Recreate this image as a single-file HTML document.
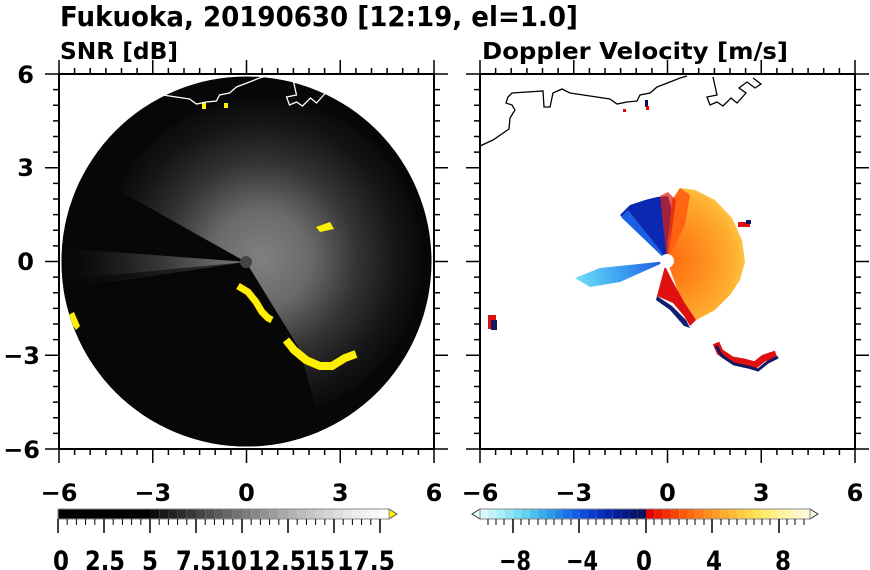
<!DOCTYPE html>
<html><head><meta charset="utf-8"><style>
html,body{margin:0;padding:0;background:#fff;}
svg{display:block;}
text{font-family:"DejaVu Sans","Liberation Sans",sans-serif;font-weight:bold;fill:#000;}
</style></head><body>
<svg width="870" height="570" viewBox="0 0 870 570" xmlns="http://www.w3.org/2000/svg">
<defs>
<radialGradient id="glow" cx="262" cy="258" r="160" gradientUnits="userSpaceOnUse">
<stop offset="0" stop-color="#808080"/>
<stop offset="0.3" stop-color="#6a6a6a"/>
<stop offset="0.6" stop-color="#333"/>
<stop offset="0.85" stop-color="#151515"/>
<stop offset="1" stop-color="#0a0a0a"/>
</radialGradient>
<radialGradient id="glowL" cx="246" cy="262" r="170" gradientUnits="userSpaceOnUse">
<stop offset="0" stop-color="#777"/>
<stop offset="0.5" stop-color="#3a3a3a"/>
<stop offset="1" stop-color="#0a0a0a"/>
</radialGradient>
<radialGradient id="orng" cx="667" cy="261" r="85" gradientUnits="userSpaceOnUse">
<stop offset="0" stop-color="#ff6a10"/>
<stop offset="0.4" stop-color="#ff8a1c"/>
<stop offset="0.8" stop-color="#ffb030"/>
<stop offset="1" stop-color="#ffd050"/>
</radialGradient>
<linearGradient id="lb" x1="667" y1="261" x2="575" y2="280" gradientUnits="userSpaceOnUse">
<stop offset="0" stop-color="#2050e0"/>
<stop offset="0.5" stop-color="#3aa0f0"/>
<stop offset="1" stop-color="#70e0f8"/>
</linearGradient>
<clipPath id="circ"><circle cx="246.5" cy="261.5" r="185"/></clipPath>
</defs>

<text x="60" y="26" font-size="28" textLength="518" lengthAdjust="spacingAndGlyphs">Fukuoka, 20190630 [12:19, el=1.0]</text>
<text x="60" y="59" font-size="23" textLength="118" lengthAdjust="spacingAndGlyphs">SNR [dB]</text>
<text x="482" y="59" font-size="23" textLength="306" lengthAdjust="spacingAndGlyphs">Doppler Velocity [m/s]</text>

<!-- LEFT PANEL -->
<circle cx="246.5" cy="261.5" r="185" fill="#070707"/>
<g clip-path="url(#circ)">
<circle cx="262" cy="258" r="160" fill="url(#glow)"/>
<polygon points="246,262 100,180 60,180 60,248" fill="#070707"/>
<polygon points="246,262 60,248 60,300" fill="url(#glowL)" opacity="0.7"/>
<polygon points="246,262 60,290 60,460 330,460 300,350" fill="#070707"/>
<polygon points="246,262 240,270 120,300 60,300 60,280" fill="#070707" opacity="0.6"/>
<polyline points="238,286 248,292 256,302 262,312 268,318 272,320" fill="none" stroke="#ffef00" stroke-width="7"/>
<polyline points="286,340 294,350 306,360 320,366 332,366 345,358 356,354" fill="none" stroke="#ffef00" stroke-width="8"/>
<polygon points="66,316 74,312 80,326 76,330" fill="#ffef00"/>
<polygon points="316,227 330,222 334,229 320,232" fill="#ffef00"/>
<rect x="202" y="102" width="4" height="7" fill="#ffef00"/>
<rect x="224" y="103" width="4" height="5" fill="#ffef00"/>
<circle cx="246" cy="262" r="6" fill="#444"/>
</g>
<polyline fill="none" stroke="#fff" stroke-width="1.3" points="59.5,146 72.5,140 88.5,129 89.5,118 94.5,110 91.5,105 85.5,103 87.5,97 91.5,93 122.5,91 123.5,107 129.5,107 132.5,93 141.5,89 149.5,93 169.5,96 189.5,99 196.5,104 206.5,102 216.5,101 219.5,95 229.5,93 236.5,87 249.5,82 259.5,78 266.5,76"/>
<polyline fill="none" stroke="#fff" stroke-width="1.3" points="292.5,77 296.5,95 286.5,97 289.5,105 296.5,102 302.5,106 310.5,98 316.5,103 325.5,93 318.5,88 326.5,82 334.5,88 340.5,84 332.5,78"/>

<!-- RIGHT PANEL -->
<polyline fill="none" stroke="#000" stroke-width="1.3" points="480,146 493,140 509,129 510,118 515,110 512,105 506,103 508,97 512,93 543,91 544,107 550,107 553,93 562,89 570,93 590,96 610,99 617,104 627,102 637,101 640,95 650,93 657,87 670,82 680,78 687,76"/>
<polyline fill="none" stroke="#000" stroke-width="1.3" points="713,77 717,95 707,97 710,105 717,102 723,106 731,98 737,103 746,93 739,88 747,82 755,88 761,84 753,78"/>
<rect x="623" y="109" width="3" height="3" fill="#e00"/>
<rect x="645" y="100" width="3" height="7" fill="#001070"/>
<rect x="646" y="106" width="3" height="4" fill="#e00"/>
<!-- blue -->
<path d="M667,261 L620,215 L630,205 L645,200 L657,197 L668,196 L672,210 L668,240 Z" fill="#0a28b0"/>
<path d="M667,261 L621,217 L628,210 L660,250 Z" fill="#1a60e0"/>
<path d="M667,261 L600,268 L575,278 L590,287 L620,282 Z" fill="url(#lb)"/>
<!-- orange fan -->
<path d="M667,261 L690,324 L700,318 L715,310 L730,295 L740,280 L745,262 L742,240 L732,218 L715,200 L695,190 L680,188 L672,200 Z" fill="url(#orng)"/>
<path d="M667,261 L672,200 L680,188 L690,195 L685,225 Z" fill="#ff5a10" opacity="0.85"/>
<path d="M667,261 L660,196 L668,192 L676,200 L672,230 Z" fill="#e02010" opacity="0.7"/>
<!-- red/navy underside -->
<path d="M665,266 L657,296 L673,303 L684,316 L690,326 L696,320 L684,302 L672,280 Z" fill="#e01010"/>
<path d="M657,296 L672,306 L686,320 L690,328 L684,326 L670,310 L656,300 Z" fill="#102070"/>
<polyline points="716,343 720,352 732,360 744,362 755,365 764,358 776,354" fill="none" stroke="#e01010" stroke-width="7"/>
<polyline points="716,346 722,356 734,364 748,367 758,370 768,362 778,357" fill="none" stroke="#101860" stroke-width="3"/>
<rect x="488" y="315" width="8" height="14" fill="#e01010"/>
<rect x="491" y="320" width="6" height="10" fill="#101860"/>
<rect x="738" y="222" width="12" height="5" fill="#e01010"/>
<rect x="746" y="220" width="5" height="4" fill="#101860"/>
<circle cx="667" cy="261" r="7" fill="#fff"/>

<!-- FRAMES & TICKS -->
<g stroke="#000" fill="none">
<rect x="59" y="74" width="375" height="375" stroke-width="2"/>
<rect x="480" y="74" width="375" height="375" stroke-width="2"/>
<g stroke-width="1.5" id="ticks">
<path d="M59,74v-14M152.75,74v-14M246.5,74v-14M340.25,74v-14M434,74v-14M59,449v14M152.75,449v14M246.5,449v14M340.25,449v14M434,449v14M59,74h-14M59,167.75h-14M59,261.5h-14M59,355.25h-14M59,449h-14M434,74h14M434,167.75h14M434,261.5h14M434,355.25h14M434,449h14"/>
<path d="M74.6,74v-6M90.2,74v-6M105.9,74v-6M121.5,74v-6M137.1,74v-6M168.4,74v-6M184,74v-6M199.6,74v-6M215.2,74v-6M230.9,74v-6M262.1,74v-6M277.7,74v-6M293.4,74v-6M309,74v-6M324.6,74v-6M355.9,74v-6M371.5,74v-6M387.1,74v-6M402.7,74v-6M418.4,74v-6M74.6,449v6M90.2,449v6M105.9,449v6M121.5,449v6M137.1,449v6M168.4,449v6M184,449v6M199.6,449v6M215.2,449v6M230.9,449v6M262.1,449v6M277.7,449v6M293.4,449v6M309,449v6M324.6,449v6M355.9,449v6M371.5,449v6M387.1,449v6M402.7,449v6M418.4,449v6"/>
<path d="M59,89.6h-6M59,105.2h-6M59,120.9h-6M59,136.5h-6M59,152.1h-6M59,183.4h-6M59,199h-6M59,214.6h-6M59,230.2h-6M59,245.9h-6M59,277.1h-6M59,292.7h-6M59,308.4h-6M59,324h-6M59,339.6h-6M59,370.9h-6M59,386.5h-6M59,402.1h-6M59,417.7h-6M59,433.4h-6M434,89.6h6M434,105.2h6M434,120.9h6M434,136.5h6M434,152.1h6M434,183.4h6M434,199h6M434,214.6h6M434,230.2h6M434,245.9h6M434,277.1h6M434,292.7h6M434,308.4h6M434,324h6M434,339.6h6M434,370.9h6M434,386.5h6M434,402.1h6M434,417.7h6M434,433.4h6"/>
</g>
<use href="#ticks" x="421"/>
</g>

<g font-size="24" text-anchor="middle">
<text x="59" y="501">−6</text><text x="152.75" y="501">−3</text><text x="246.5" y="501">0</text><text x="340.25" y="501">3</text><text x="434" y="501">6</text>
<text x="480" y="501">−6</text><text x="573.75" y="501">−3</text><text x="667.5" y="501">0</text><text x="761.25" y="501">3</text><text x="855" y="501">6</text>
</g>
<g font-size="24" text-anchor="end">
<text x="34" y="83">6</text><text x="34" y="176">3</text><text x="34" y="270">0</text><text x="40" y="364">−3</text><text x="40" y="458">−6</text>
</g>

<!-- LEFT COLORBAR -->
<g>
<rect x="58" y="509" width="92" height="10" fill="#000"/>
<rect x="150" y="509" width="9.2" height="10" fill="#0d0d0d"/><rect x="159.2" y="509" width="9.2" height="10" fill="#171717"/><rect x="168.4" y="509" width="9.2" height="10" fill="#222"/><rect x="177.6" y="509" width="9.2" height="10" fill="#2d2d2d"/><rect x="186.8" y="509" width="9.2" height="10" fill="#383838"/><rect x="196" y="509" width="9.2" height="10" fill="#444"/><rect x="205.2" y="509" width="9.2" height="10" fill="#505050"/><rect x="214.4" y="509" width="9.2" height="10" fill="#5b5b5b"/><rect x="223.6" y="509" width="9.2" height="10" fill="#666"/><rect x="232.8" y="509" width="9.2" height="10" fill="#717171"/><rect x="242" y="509" width="9.2" height="10" fill="#7c7c7c"/><rect x="251.2" y="509" width="9.2" height="10" fill="#878787"/><rect x="260.4" y="509" width="9.2" height="10" fill="#929292"/><rect x="269.6" y="509" width="9.2" height="10" fill="#9d9d9d"/><rect x="278.8" y="509" width="9.2" height="10" fill="#a8a8a8"/><rect x="288" y="509" width="9.2" height="10" fill="#b2b2b2"/><rect x="297.2" y="509" width="9.2" height="10" fill="#bcbcbc"/><rect x="306.4" y="509" width="9.2" height="10" fill="#c5c5c5"/><rect x="315.6" y="509" width="9.2" height="10" fill="#cecece"/><rect x="324.8" y="509" width="9.2" height="10" fill="#d6d6d6"/><rect x="334" y="509" width="9.2" height="10" fill="#dedede"/><rect x="343.2" y="509" width="9.2" height="10" fill="#e6e6e6"/><rect x="352.4" y="509" width="9.2" height="10" fill="#ececec"/><rect x="361.6" y="509" width="9.2" height="10" fill="#f2f2f2"/><rect x="370.8" y="509" width="9.2" height="10" fill="#f7f7f7"/><rect x="380" y="509" width="9" height="10" fill="#fff"/>
<polygon points="389,509 397,514 389,519" fill="#ffef00" stroke="#555" stroke-width="1"/>
<rect x="58" y="509" width="331" height="10" fill="none" stroke="#888" stroke-width="1"/>
<path d="M58,519v14M104,519v14M150,519v14M196,519v14M242,519v14M288,519v14M334,519v14M380,519v14" stroke="#000" stroke-width="1.5"/>
<path d="M67.2,519v6M76.4,519v6M85.6,519v6M94.8,519v6M113.2,519v6M122.4,519v6M131.6,519v6M140.8,519v6M159.2,519v6M168.4,519v6M177.6,519v6M186.8,519v6M205.2,519v6M214.4,519v6M223.6,519v6M232.8,519v6M251.2,519v6M260.4,519v6M269.6,519v6M278.8,519v6M297.2,519v6M306.4,519v6M315.6,519v6M324.8,519v6M343.2,519v6M352.4,519v6M361.6,519v6M370.8,519v6" stroke="#000" stroke-width="1"/>
</g>
<g font-size="27" text-anchor="middle">
<text x="61" y="570" textLength="16" lengthAdjust="spacingAndGlyphs">0</text>
<text x="105" y="570" textLength="40" lengthAdjust="spacingAndGlyphs">2.5</text>
<text x="150" y="570" textLength="16" lengthAdjust="spacingAndGlyphs">5</text>
<text x="196" y="570" textLength="40" lengthAdjust="spacingAndGlyphs">7.5</text>
<text x="231" y="570" textLength="32" lengthAdjust="spacingAndGlyphs">10</text>
<text x="277" y="570" textLength="58" lengthAdjust="spacingAndGlyphs">12.5</text>
<text x="320" y="570" textLength="30" lengthAdjust="spacingAndGlyphs">15</text>
<text x="366" y="570" textLength="58" lengthAdjust="spacingAndGlyphs">17.5</text>
</g>

<!-- RIGHT COLORBAR -->
<g>
<polygon points="480,509 472,514 480,519" fill="#e0ffff" stroke="#333" stroke-width="1"/>
<polygon points="810,509 818,514 810,519" fill="#fffbe0" stroke="#333" stroke-width="1"/>
<rect x="480" y="509" width="8.3" height="10" fill="#d8fafa"/><rect x="488.3" y="509" width="8.3" height="10" fill="#c0f4f8"/><rect x="496.6" y="509" width="8.3" height="10" fill="#a8eef6"/><rect x="504.9" y="509" width="8.3" height="10" fill="#90e6f4"/><rect x="513.2" y="509" width="8.3" height="10" fill="#78dcf2"/><rect x="521.5" y="509" width="8.3" height="10" fill="#60d0f0"/><rect x="529.8" y="509" width="8.3" height="10" fill="#48c0ee"/><rect x="538.1" y="509" width="8.3" height="10" fill="#38aeec"/><rect x="546.4" y="509" width="8.3" height="10" fill="#2a9aea"/><rect x="554.7" y="509" width="8.3" height="10" fill="#2086e8"/><rect x="563" y="509" width="8.3" height="10" fill="#1872e6"/><rect x="571.3" y="509" width="8.3" height="10" fill="#105ee4"/><rect x="579.6" y="509" width="8.3" height="10" fill="#0c4cdc"/><rect x="587.9" y="509" width="8.3" height="10" fill="#083cd0"/><rect x="596.2" y="509" width="8.3" height="10" fill="#0630c0"/><rect x="604.5" y="509" width="8.3" height="10" fill="#0426ac"/><rect x="612.8" y="509" width="8.3" height="10" fill="#041e98"/><rect x="621.1" y="509" width="8.3" height="10" fill="#041884"/><rect x="629.4" y="509" width="8.3" height="10" fill="#041470"/><rect x="637.7" y="509" width="8.3" height="10" fill="#06125c"/>
<rect x="646" y="509" width="8.3" height="10" fill="#e00000"/><rect x="654.3" y="509" width="8.3" height="10" fill="#ea1a00"/><rect x="662.6" y="509" width="8.3" height="10" fill="#f23000"/><rect x="670.9" y="509" width="8.3" height="10" fill="#f84400"/><rect x="679.2" y="509" width="8.3" height="10" fill="#fc5808"/><rect x="687.5" y="509" width="8.3" height="10" fill="#ff6a10"/><rect x="695.8" y="509" width="8.3" height="10" fill="#ff7c18"/><rect x="704.1" y="509" width="8.3" height="10" fill="#ff8c20"/><rect x="712.4" y="509" width="8.3" height="10" fill="#ff9c28"/><rect x="720.7" y="509" width="8.3" height="10" fill="#ffac30"/><rect x="729" y="509" width="8.3" height="10" fill="#ffbc38"/><rect x="737.3" y="509" width="8.3" height="10" fill="#ffcc40"/><rect x="745.6" y="509" width="8.3" height="10" fill="#ffd848"/><rect x="753.9" y="509" width="8.3" height="10" fill="#ffe458"/><rect x="762.2" y="509" width="8.3" height="10" fill="#ffec70"/><rect x="770.5" y="509" width="8.3" height="10" fill="#fff088"/><rect x="778.8" y="509" width="8.3" height="10" fill="#fff4a0"/><rect x="787.1" y="509" width="8.3" height="10" fill="#fff6b8"/><rect x="795.4" y="509" width="8.3" height="10" fill="#fff8cc"/><rect x="803.7" y="509" width="6.3" height="10" fill="#fffae0"/>
<rect x="480" y="509" width="330" height="10" fill="none" stroke="#888" stroke-width="1"/>
<path d="M513,519v14M579,519v14M646,519v14M712,519v14M779,519v14" stroke="#000" stroke-width="1.5"/>
<path d="M488,519v6M496,519v6M504,519v6M521,519v6M529,519v6M538,519v6M546,519v6M554,519v6M562,519v6M571,519v6M588,519v6M596,519v6M604,519v6M612,519v6M621,519v6M629,519v6M637,519v6M654,519v6M662,519v6M670,519v6M679,519v6M687,519v6M695,519v6M704,519v6M721,519v6M729,519v6M737,519v6M746,519v6M754,519v6M762,519v6M770,519v6M787,519v6M795,519v6M804,519v6" stroke="#000" stroke-width="1"/>
</g>
<g font-size="27" text-anchor="middle">
<text x="515" y="570" textLength="32" lengthAdjust="spacingAndGlyphs">−8</text>
<text x="582" y="570" textLength="32" lengthAdjust="spacingAndGlyphs">−4</text>
<text x="644" y="570" textLength="16" lengthAdjust="spacingAndGlyphs">0</text>
<text x="714" y="570" textLength="16" lengthAdjust="spacingAndGlyphs">4</text>
<text x="783" y="570" textLength="16" lengthAdjust="spacingAndGlyphs">8</text>
</g>
</svg>
</body></html>
